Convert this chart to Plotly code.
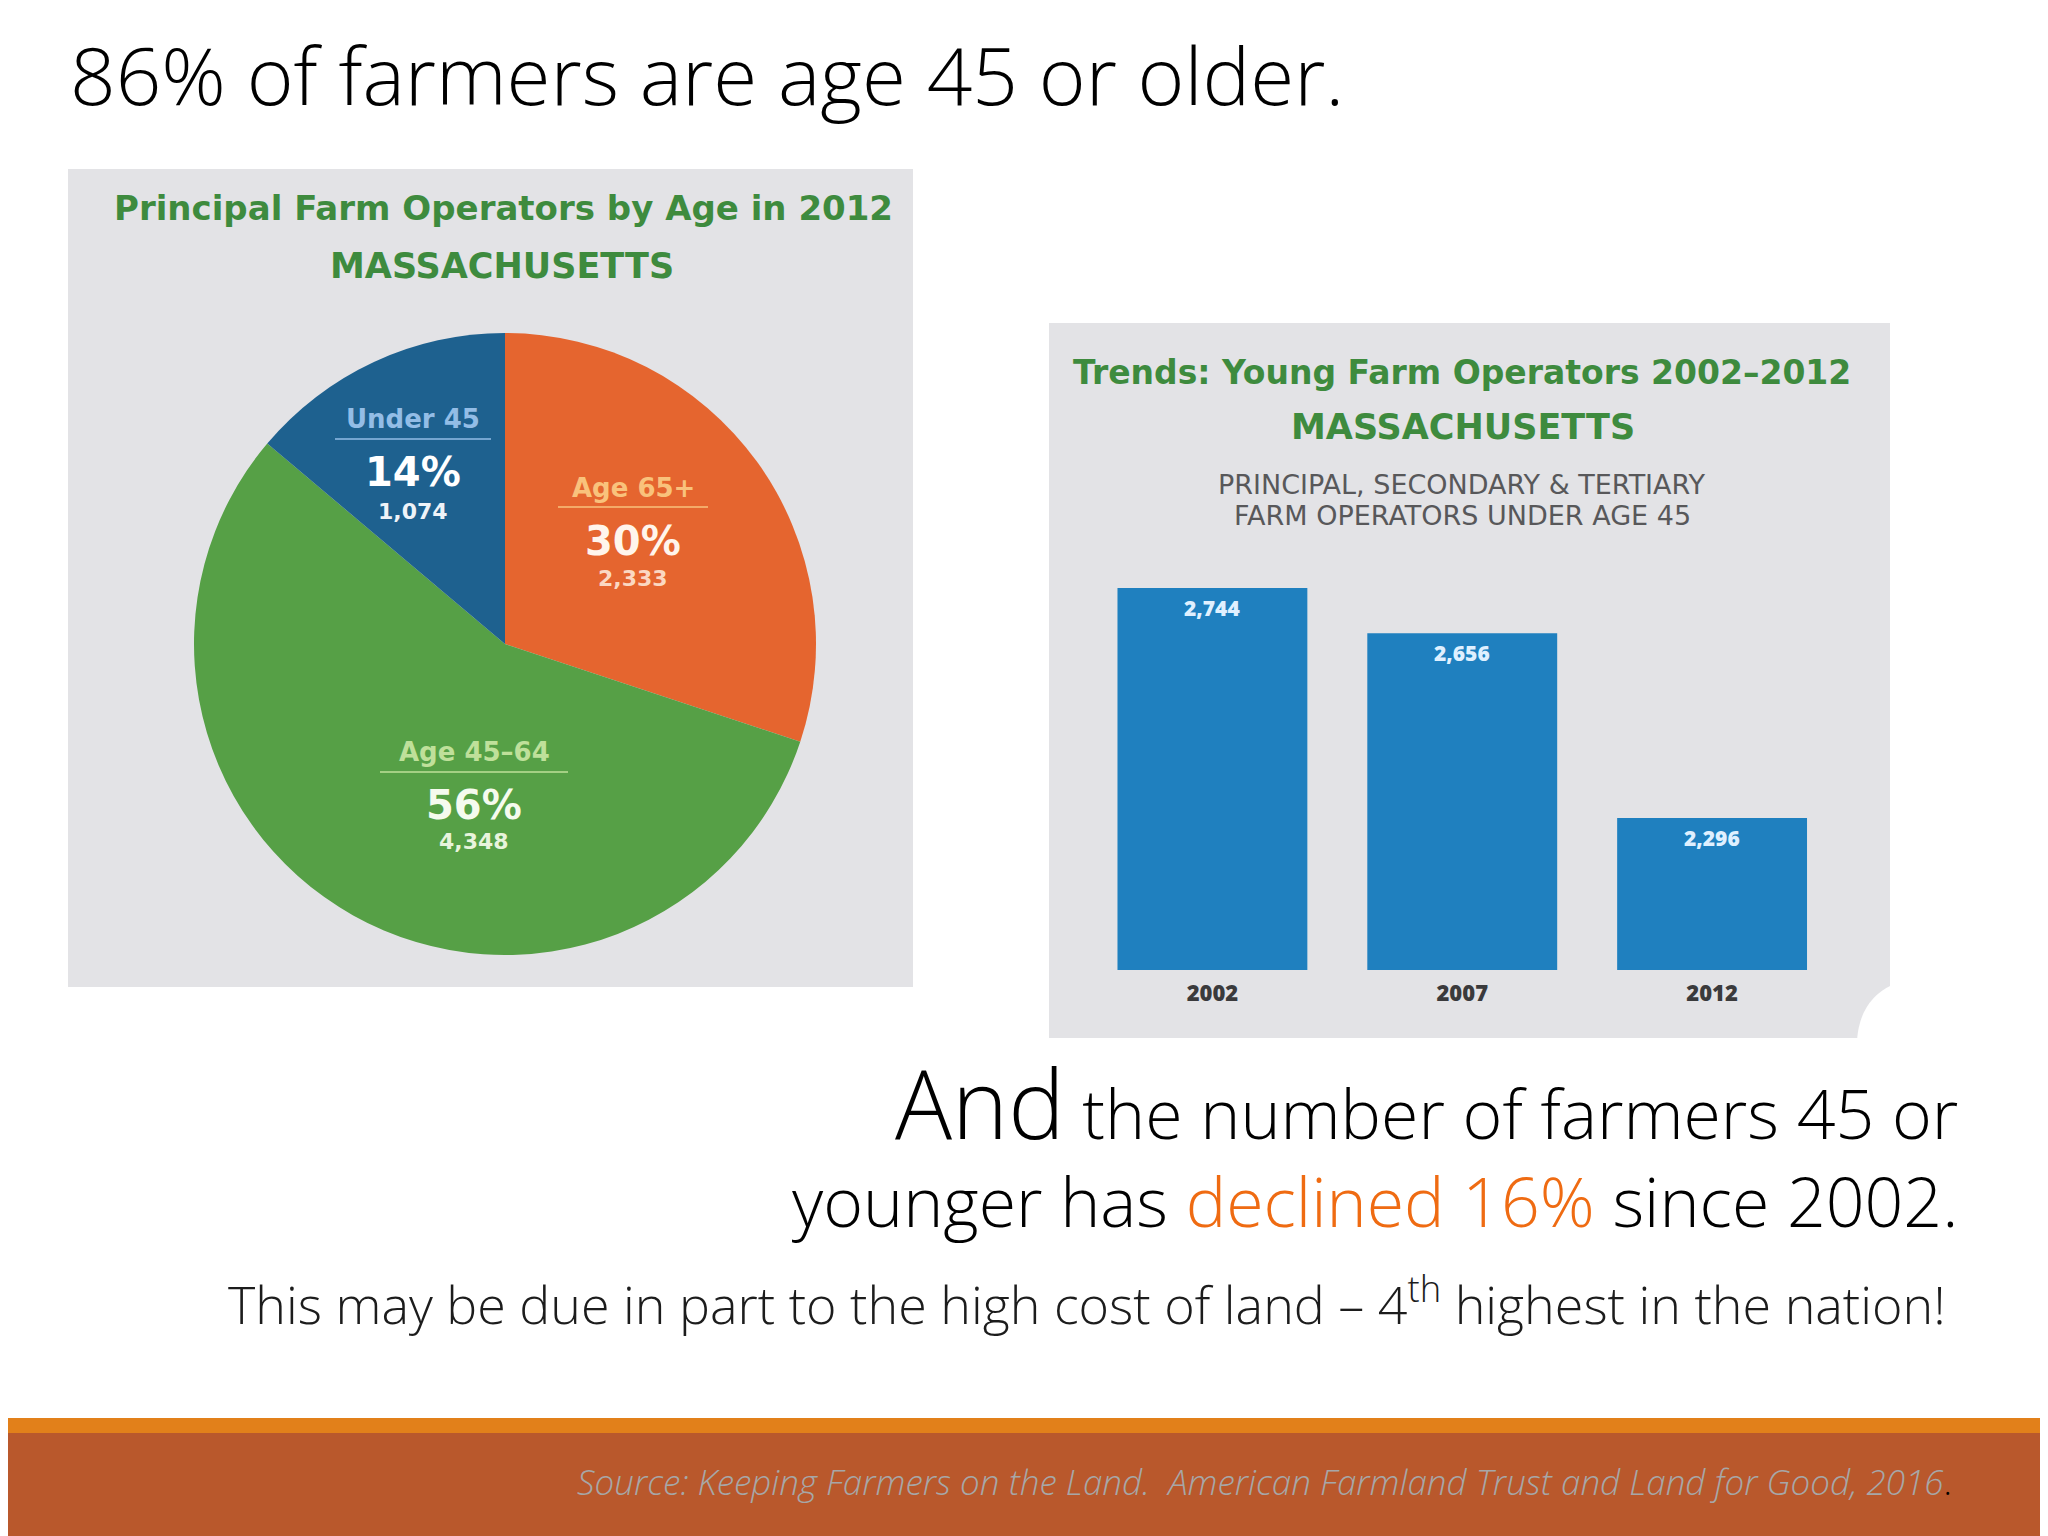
import plotly.graph_objects as go

# ---------------- data ----------------
pie_labels = ["Age 65+", "Age 45–64", "Under 45"]
pie_values = [2333, 4348, 1074]
pie_colors = ["#e5652f", "#56a046", "#1e618f"]

bar_years = ["2002", "2007", "2012"]
bar_values = [2744, 2656, 2296]

# the page body adds an 8px margin, so the figure is drawn 8px in from the corner
OFF = 8
W, H = 2040, 1528


def px(x):
    return (x - OFF) / W


def py(y):
    return 1 - (y - OFF) / H


fig = go.Figure()

# ---------------- pie ----------------
fig.add_trace(go.Pie(
    labels=pie_labels, values=pie_values,
    marker=dict(colors=pie_colors, line=dict(width=0)),
    sort=False, direction="clockwise", rotation=0,
    textinfo="none", hoverinfo="label+value+percent",
    domain=dict(x=[px(194), px(816)], y=[py(955), py(333)]),
    showlegend=False,
))

# ---------------- bars ----------------
fig.add_trace(go.Bar(
    x=bar_years, y=bar_values,
    marker=dict(color="#1f80bf", line=dict(width=0)),
    width=0.76, showlegend=False, hoverinfo="x+y",
))

shapes = []
annotations = []

# panels
shapes.append(dict(type="rect", xref="paper", yref="paper", layer="below",
                   x0=px(68), x1=px(913), y0=py(987), y1=py(169),
                   fillcolor="#e3e3e6", line=dict(width=0)))
shapes.append(dict(type="rect", xref="paper", yref="paper", layer="below",
                   x0=px(1049), x1=px(1890), y0=py(1038), y1=py(323),
                   fillcolor="#e3e3e6", line=dict(width=0)))
# curled corner
shapes.append(dict(type="path", xref="paper", yref="paper", layer="above",
                   path=(f"M {px(1857)},{py(1040)} Q {px(1860)},{py(1000)} {px(1892)},{py(985)} "
                         f"L {px(1892)},{py(1040)} Z"),
                   fillcolor="#ffffff", line=dict(width=0)))

# footer
shapes.append(dict(type="rect", xref="paper", yref="paper", layer="above",
                   x0=0, x1=1, y0=py(1433), y1=py(1418),
                   fillcolor="#e2801a", line=dict(width=0)))
shapes.append(dict(type="rect", xref="paper", yref="paper", layer="above",
                   x0=0, x1=1, y0=0, y1=py(1433),
                   fillcolor="#b9582c", line=dict(width=0)))


def ann(text, x, y, size, color, family="Open Sans", weight=None, xanchor="center",
        yanchor="middle"):
    f = dict(size=size, color=color, family=family)
    if weight is not None:
        f["weight"] = weight
    annotations.append(dict(text=text, x=px(x), y=py(y), xref="paper", yref="paper",
                            xanchor=xanchor, yanchor=yanchor, showarrow=False, font=f))


GREEN = "#3e8b3e"
BOLD = "DejaVu Sans"
# slide title
ann("86% of farmers are age 45 or older.", 68, 74, 80, "#000000", weight=300, xanchor="left")

# pie titles
ann("Principal Farm Operators by Age in 2012", 503, 208, 34, GREEN, family=BOLD, weight=700)
ann("MASSACHUSETTS", 502, 266, 35, GREEN, family=BOLD, weight=700)

# pie labels
total = sum(pie_values)
label_pos = {  # centre x, label y, underline y, underline half width, pct y, count y
    "Under 45": (413, 419, 439, 78, 472, 511),
    "Age 65+": (633, 488, 507, 75, 541, 579),
    "Age 45–64": (474, 752, 772, 94, 805, 842),
}
label_cols = {
    "Under 45": ("#93bde6", "#ffffff", "#eef3f8"),
    "Age 65+": ("#f9c27c", "#fff5ec", "#fbd8c2"),
    "Age 45–64": ("#bfe09a", "#f5fbee", "#e8f4dc"),
}
for lab, val in zip(pie_labels, pie_values):
    cx, ly, uy, hw, pcy, cy = label_pos[lab]
    c1, c2, c3 = label_cols[lab]
    ann(lab, cx, ly, 26, c1, family=BOLD, weight=700)
    shapes.append(dict(type="line", xref="paper", yref="paper",
                       x0=px(cx - hw), x1=px(cx + hw), y0=py(uy), y1=py(uy),
                       line=dict(color=c1, width=1.5)))
    ann(f"{round(val / total * 100)}%", cx, pcy, 40, c2, family=BOLD, weight=700)
    ann(f"{val:,}", cx, cy, 22, c3, family=BOLD, weight=700)

# bar titles
ann("Trends: Young Farm Operators 2002–2012", 1462, 372, 33, GREEN, family=BOLD, weight=700)
ann("MASSACHUSETTS", 1463, 427, 35, GREEN, family=BOLD, weight=700)
ann("PRINCIPAL, SECONDARY &amp; TERTIARY", 1462, 484, 27, "#58585a", family="DejaVu Sans")
ann("FARM OPERATORS UNDER AGE 45", 1462, 515, 27, "#58585a", family="DejaVu Sans")

# bar value labels (placed on the bar tops through the data axes)
for i, v in enumerate(bar_values):
    annotations.append(dict(text=f"{v:,}", x=i, y=v, xref="x", yref="y",
                            yshift=-20, showarrow=False,
                            font=dict(size=21, color="#dff0ff", family="Open Sans", weight=800)))

# lower text
ann("<span style='font-size:95px'>And</span> the number of farmers 45 or", 1960, 1102, 68,
    "#000000", weight=300, xanchor="right")
ann("younger has <span style='color:#ef6b12'>declined 16%</span> since 2002.", 1960, 1200, 68,
    "#000000", weight=300, xanchor="right")
ann("This may be due in part to the high cost of land – 4<sup>th</sup> highest in the nation!",
    1948, 1301, 52, "#1c1c1c", weight=300, xanchor="right")

# source
ann("<i>Source: Keeping Farmers on the Land.\u00a0 American Farmland Trust and Land for Good, 2016</i>"
    "<span style='color:#000000'>.</span>",
    1954, 1481, 35, "#a7a7a7", weight=300, xanchor="right")

fig.update_layout(
    width=W, height=H,
    margin=dict(l=0, r=0, t=0, b=0),
    paper_bgcolor="#ffffff", plot_bgcolor="rgba(0,0,0,0)",
    showlegend=False,
    bargap=0.24,
    xaxis=dict(type="category", domain=[px(1087.5), px(1837)], range=[-0.5, 2.5],
               showgrid=False, zeroline=False, showline=False, ticks="",
               tickfont=dict(size=22, color="#3a3a3c", family="Open Sans", weight=800),
               ticklabelstandoff=8, fixedrange=True),
    yaxis=dict(range=[2000, 2800], domain=[py(970), py(970 - 800 * 0.5134)],
               visible=False, fixedrange=True),
    shapes=shapes,
    annotations=annotations,
)

fig.write_html("out.html")
